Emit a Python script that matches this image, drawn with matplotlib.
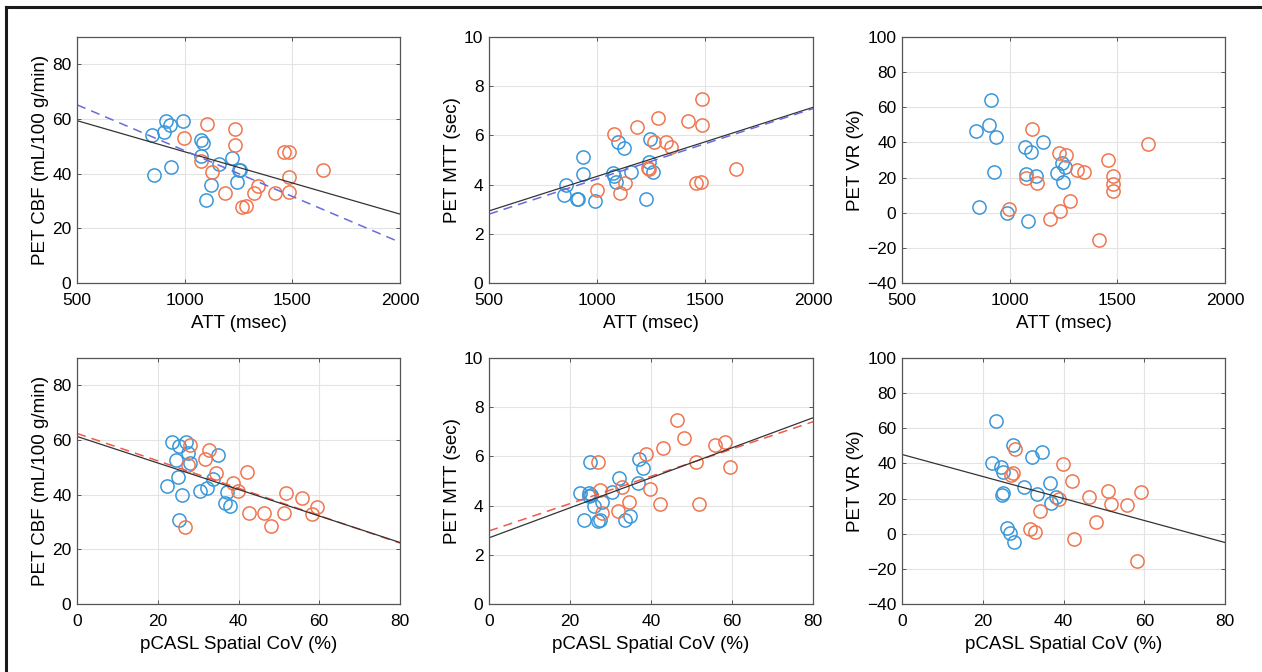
import numpy as np
import matplotlib.pyplot as plt
from matplotlib.lines import Line2D

plt.rcParams['font.family'] = ['Liberation Sans', 'DejaVu Sans']

BLUE = '#3a97d9'
ORANGE = '#f0764f'

# ---- top row: ATT (msec) ----
att_cbf_b_x = [848, 856, 913, 906, 931, 936, 990, 1074, 1084, 1078, 1121, 1100, 1160, 1222, 1251, 1257, 1243]
att_cbf_b_y = [54.3, 39.6, 59.3, 55.4, 57.9, 42.4, 59.3, 52.4, 51.2, 46.5, 35.7, 30.3, 43.5, 45.7, 41.2, 41.2, 37.0]
att_cbf_o_x = [998, 1106, 1078, 1126, 1187, 1236, 1234, 1264, 1285, 1320, 1342, 1420, 1462, 1486, 1485, 1483, 1641]
att_cbf_o_y = [53.1, 58.3, 44.6, 40.6, 33.1, 56.2, 50.4, 27.9, 28.3, 33.1, 35.6, 33.1, 48.1, 48.1, 38.9, 33.3, 41.3]

att_mtt_b_x = [855, 848, 906, 914, 933, 937, 990, 1076, 1081, 1087, 1099, 1123, 1158, 1225, 1246, 1243, 1259]
att_mtt_b_y = [3.97, 3.59, 3.41, 3.41, 4.42, 5.11, 3.35, 4.49, 4.35, 4.12, 5.73, 5.50, 4.50, 3.41, 5.86, 4.91, 4.53]
att_mtt_o_x = [999, 1079, 1107, 1129, 1186, 1235, 1240, 1283, 1262, 1320, 1343, 1421, 1459, 1483, 1486, 1486, 1645]
att_mtt_o_y = [3.78, 6.04, 3.65, 4.05, 6.35, 4.69, 4.62, 6.72, 5.74, 5.73, 5.53, 6.57, 4.05, 4.12, 7.46, 6.42, 4.65]

att_vr_b_x = [845, 856, 913, 904, 935, 928, 987, 1073, 1098, 1076, 1121, 1084, 1157, 1221, 1242, 1255, 1248]
att_vr_b_y = [46.3, 3.1, 63.9, 50.1, 43.2, 23.0, 0.1, 37.6, 34.6, 22.1, 21.1, -5.0, 40.0, 22.4, 28.5, 26.2, 17.7]
att_vr_o_x = [996, 1076, 1103, 1126, 1185, 1231, 1262, 1234, 1282, 1315, 1343, 1417, 1457, 1482, 1482, 1482, 1643]
att_vr_o_y = [2.2, 19.6, 47.6, 16.7, -3.5, 33.8, 32.8, 0.7, 6.4, 24.3, 23.2, -15.8, 30.0, 20.9, 16.2, 12.6, 39.1]

# ---- bottom row: pCASL spatial CoV (%) ----
cov_cbf_b_x = [23.5, 25.2, 24.5, 22.4, 25.0, 26.1, 25.2, 27.1, 27.5, 27.9, 30.4, 32.2, 33.6, 34.9, 37.1, 36.6, 37.9]
cov_cbf_b_y = [59.4, 57.7, 52.6, 43.3, 46.6, 39.7, 30.6, 59.4, 55.2, 51.6, 41.3, 42.5, 45.8, 54.4, 41.0, 37.0, 35.8]
cov_cbf_o_x = [26.7, 28.0, 27.6, 31.8, 32.8, 34.5, 38.6, 39.8, 42.1, 42.7, 46.4, 48.1, 51.2, 51.8, 55.8, 58.3, 59.4]
cov_cbf_o_y = [28.0, 58.3, 51.0, 53.0, 56.2, 48.0, 44.3, 41.3, 48.2, 33.3, 33.4, 28.4, 33.4, 40.5, 38.8, 33.0, 35.6]

cov_mtt_b_x = [22.4, 23.4, 24.7, 24.8, 25.1, 25.0, 25.9, 26.9, 27.4, 27.9, 30.3, 32.2, 33.7, 34.9, 36.7, 37.0, 38.1]
cov_mtt_b_y = [4.50, 3.43, 4.53, 4.39, 4.45, 5.77, 3.99, 3.36, 3.41, 4.15, 4.55, 5.11, 3.42, 3.58, 4.93, 5.88, 5.51]
cov_mtt_o_x = [26.9, 27.4, 28.0, 31.8, 32.9, 34.5, 38.7, 39.8, 42.1, 42.9, 46.3, 48.2, 51.2, 51.9, 55.8, 58.3, 59.4]
cov_mtt_o_y = [5.77, 4.65, 3.69, 3.80, 4.74, 4.15, 6.08, 4.69, 4.08, 6.36, 7.49, 6.73, 5.76, 4.07, 6.46, 6.59, 5.57]

cov_vr_b_x = [23.3, 22.3, 24.5, 24.9, 25.0, 24.8, 25.9, 26.8, 27.7, 27.5, 32.1, 30.1, 33.5, 34.7, 36.6, 36.9, 38.2]
cov_vr_b_y = [63.9, 40.4, 37.8, 34.9, 23.4, 21.9, 3.3, 0.3, -4.8, 50.4, 43.4, 26.6, 22.6, 46.5, 29.0, 17.7, 20.9]
cov_vr_o_x = [26.9, 27.5, 28.0, 31.7, 32.9, 34.3, 38.8, 39.8, 42.1, 42.7, 46.2, 48.1, 51.1, 51.7, 55.7, 58.2, 59.2]
cov_vr_o_y = [33.4, 34.3, 48.0, 2.8, 0.7, 13.2, 19.6, 39.6, 30.2, -3.1, 21.1, 6.4, 24.3, 16.8, 16.2, -15.8, 23.7]

# fitted lines (value at the x-limits)
att_ends = [500, 2000]
cov_ends = [0, 80]
fit_att_cbf = [59.4, 25.2]
fit_att_cbf_dash = [65.2, 14.9]
fit_att_mtt = [2.93, 7.14]
fit_att_mtt_dash = [2.80, 7.09]
fit_cov_cbf = [61.3, 22.5]
fit_cov_cbf_dash = [62.4, 22.3]
fit_cov_mtt = [2.69, 7.57]
fit_cov_mtt_dash = [2.97, 7.41]
fit_cov_vr = [45.1, -5.0]

fig = plt.figure(figsize=(12.62, 6.72), dpi=100)

W, H = 1262, 672
cols = [(77, 400), (489, 813), (902, 1225)]
rows = [(37, 283), (358, 604)]


def make_ax(r, c):
    x0, x1 = cols[c]
    y0, y1 = rows[r]
    ax = fig.add_axes([x0 / W, 1 - y1 / H, (x1 - x0) / W, (y1 - y0) / H])
    ax.grid(True, color='#e3e3e3', linewidth=0.8)
    ax.set_axisbelow(True)
    for s in ax.spines.values():
        s.set_color('#555555')
        s.set_linewidth(0.9)
    ax.tick_params(direction='in', top=True, right=True, length=3, width=0.7,
                   color='#555555', labelsize=12.5)
    ax.tick_params(axis='x', pad=7)
    ax.tick_params(axis='y', pad=4)
    return ax


def labels(ax, xl, yl):
    ax.set_xlabel(xl, fontsize=13.5, labelpad=5)
    ax.set_ylabel(yl, fontsize=13.5, labelpad=2)


def scatter(ax, bx, by, ox, oy):
    ax.plot(bx, by, 'o', mfc='none', mec=BLUE, ms=9.5, mew=1.1)
    ax.plot(ox, oy, 'o', mfc='none', mec=ORANGE, ms=9.5, mew=1.1)


# panel 1
ax = make_ax(0, 0)
scatter(ax, att_cbf_b_x, att_cbf_b_y, att_cbf_o_x, att_cbf_o_y)
ax.plot(att_ends, fit_att_cbf, color='#333333', lw=0.9)
ax.plot(att_ends, fit_att_cbf_dash, color='#6a6ae0', lw=1.1, ls=(0, (6, 4)))
ax.set_xlim(500, 2000)
ax.set_ylim(0, 90)
ax.set_xticks([500, 1000, 1500, 2000])
ax.set_yticks([0, 20, 40, 60, 80])
labels(ax, 'ATT (msec)', 'PET CBF (mL/100 g/min)')

# panel 2
ax = make_ax(0, 1)
scatter(ax, att_mtt_b_x, att_mtt_b_y, att_mtt_o_x, att_mtt_o_y)
ax.plot(att_ends, fit_att_mtt, color='#333333', lw=0.9)
ax.plot(att_ends, fit_att_mtt_dash, color='#6a6ae0', lw=1.1, ls=(0, (6, 4)))
ax.set_xlim(500, 2000)
ax.set_ylim(0, 10)
ax.set_xticks([500, 1000, 1500, 2000])
ax.set_yticks([0, 2, 4, 6, 8, 10])
labels(ax, 'ATT (msec)', 'PET MTT (sec)')

# panel 3
ax = make_ax(0, 2)
scatter(ax, att_vr_b_x, att_vr_b_y, att_vr_o_x, att_vr_o_y)
ax.set_xlim(500, 2000)
ax.set_ylim(-40, 100)
ax.set_xticks([500, 1000, 1500, 2000])
ax.set_yticks([-40, -20, 0, 20, 40, 60, 80, 100])
labels(ax, 'ATT (msec)', 'PET VR (%)')

# panel 4
ax = make_ax(1, 0)
scatter(ax, cov_cbf_b_x, cov_cbf_b_y, cov_cbf_o_x, cov_cbf_o_y)
ax.plot(cov_ends, fit_cov_cbf_dash, color='#f05a4a', lw=1.1, ls=(0, (6, 4)))
ax.plot(cov_ends, fit_cov_cbf, color='#333333', lw=0.9)
ax.set_xlim(0, 80)
ax.set_ylim(0, 90)
ax.set_xticks([0, 20, 40, 60, 80])
ax.set_yticks([0, 20, 40, 60, 80])
labels(ax, 'pCASL Spatial CoV (%)', 'PET CBF (mL/100 g/min)')

# panel 5
ax = make_ax(1, 1)
scatter(ax, cov_mtt_b_x, cov_mtt_b_y, cov_mtt_o_x, cov_mtt_o_y)
ax.plot(cov_ends, fit_cov_mtt_dash, color='#f05a4a', lw=1.1, ls=(0, (6, 4)))
ax.plot(cov_ends, fit_cov_mtt, color='#333333', lw=0.9)
ax.set_xlim(0, 80)
ax.set_ylim(0, 10)
ax.set_xticks([0, 20, 40, 60, 80])
ax.set_yticks([0, 2, 4, 6, 8, 10])
labels(ax, 'pCASL Spatial CoV (%)', 'PET MTT (sec)')

# panel 6
ax = make_ax(1, 2)
scatter(ax, cov_vr_b_x, cov_vr_b_y, cov_vr_o_x, cov_vr_o_y)
ax.plot(cov_ends, fit_cov_vr, color='#333333', lw=0.9)
ax.set_xlim(0, 80)
ax.set_ylim(-40, 100)
ax.set_xticks([0, 20, 40, 60, 80])
ax.set_yticks([-40, -20, 0, 20, 40, 60, 80, 100])
labels(ax, 'pCASL Spatial CoV (%)', 'PET VR (%)')

# figure frame (top and left edges)
fig.add_artist(Line2D([6 / W, 1], [1 - 7 / H, 1 - 7 / H], transform=fig.transFigure,
                      color='#1a1a1a', lw=2.2))
fig.add_artist(Line2D([6 / W, 6 / W], [0, 1 - 7 / H], transform=fig.transFigure,
                      color='#1a1a1a', lw=2.2))

fig.savefig('out.png', dpi=100)
